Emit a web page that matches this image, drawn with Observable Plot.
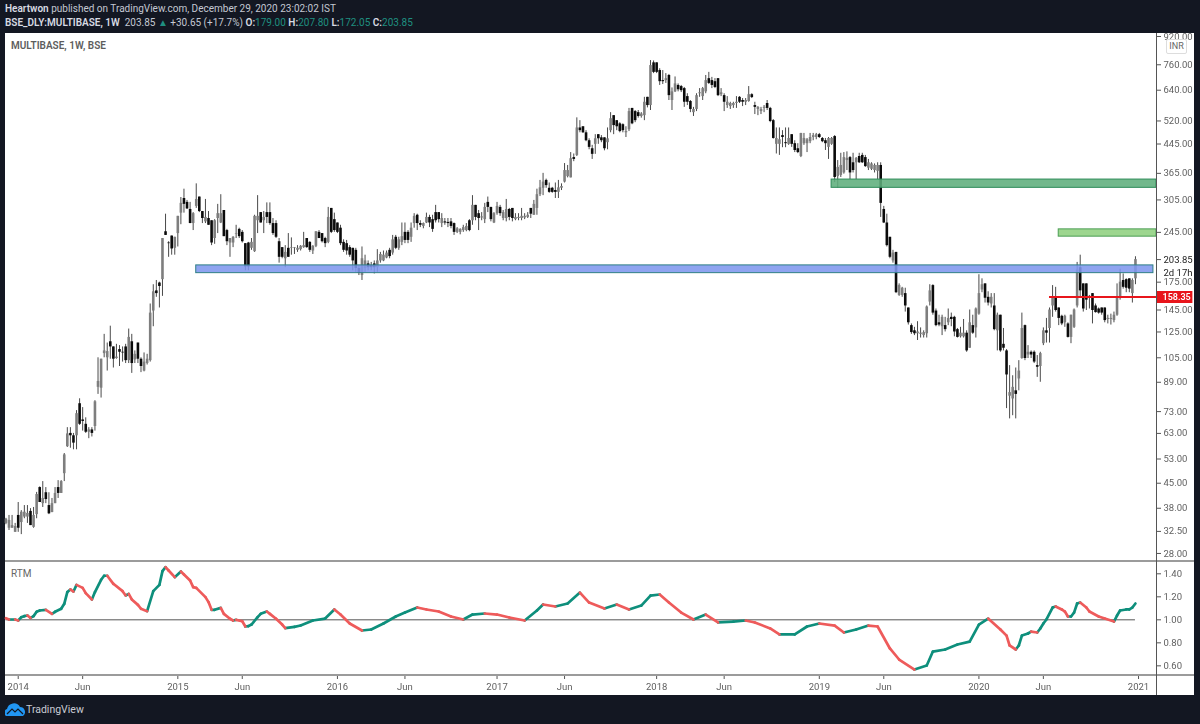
<!DOCTYPE html>
<html>
<head>
<meta charset="utf-8">
<title>MULTIBASE, 1W, BSE</title>
<script src="https://cdn.jsdelivr.net/npm/d3@7"></script>
<script src="https://cdn.jsdelivr.net/npm/@observablehq/plot@0.6"></script>
<style>
html,body{margin:0;padding:0;background:#131722;}
#page{position:relative;width:1200px;height:724px;overflow:hidden;background:#131722;font-family:Roboto,"Noto Sans",sans-serif;}
#panel{position:absolute;left:5px;top:33px;width:1189px;height:662px;background:#fff;}
.pane{position:absolute;left:0;}
.pane svg{display:block;max-width:none;overflow:visible;filter:blur(0.3px);}
.head{position:absolute;left:5px;font-size:10px;color:#c4c8d2;white-space:nowrap;line-height:14px;}
.head b{color:#d8dbe3;font-weight:600;}
.head i{font-style:normal;color:#1f8f80;}
.line{position:absolute;background:#9b9b9b;}
.tag{position:absolute;font-size:10px;color:#666;}
#inr{position:absolute;left:1166px;top:39px;width:19px;height:13px;border:1px solid #ddd;border-radius:2px;font-size:9px;line-height:13px;text-align:center;color:#666;background:#fff;}
#brand{position:absolute;left:26px;top:703px;font-size:10.5px;color:#c9ccd4;}
#logo{position:absolute;left:5px;top:703px;}
</style>
</head>
<body>
<div id="page">
  <div id="panel"></div>
  <div class="head" style="top:2px"><b>Heartwon</b> published on TradingView.com, December 29, 2020 23:02:02 IST</div>
  <div class="head" style="top:16px"><b>BSE_DLY:MULTIBASE, 1W</b>&nbsp; 203.85 <i>▲</i> +30.65 (+17.7%) <b>O:</b><i>179.00</i> <b>H:</b><i>207.80</i> <b>L:</b><i>172.05</i> <b>C:</b><i>203.85</i></div>
  <div id="pricePane" class="pane" style="top:33px"></div>
  <div id="rtmPane" class="pane" style="top:561px"></div>
  <div class="line" style="left:5px;top:560px;width:1189px;height:2px"></div>
  <div class="line" style="left:5px;top:674px;width:1189px;height:2px"></div>
  <div class="line" style="left:1156px;top:33px;width:1px;height:662px;background:#555"></div>
  <div class="tag" style="left:11px;top:40px;font-weight:600;color:#5d5d5d">MULTIBASE, 1W, BSE</div>
  <div class="tag" style="left:11px;top:568px">RTM</div>
  <div id="inr">INR</div>
  <svg id="logo" width="20" height="14" viewBox="0 0 20 14"><path d="M1 13a4 4 0 0 1 1-7 7 7 0 0 1 13-2 5 5 0 0 1 3 9z" fill="#2196f3"/><path d="M2 11l5-5 3 3 3-3 5 5" fill="none" stroke="#131722" stroke-width="1.2"/></svg>
  <div id="brand">TradingView</div>
</div>
<script>
// Weekly candles, each row [open, high, low, close], grouped by calendar year.
const candles2013 = [[34.3,35.5,34,35.3],[33.2,36.2,32.7,35],[33.2,36.2,33.2,33.8],[32.3,34.3,32.3,33.6]];
const candles2014 = [
[36.2,39.5,32.3,33.2],[34.5,37.4,31.8,37],[35.8,38.7,35.4,37],[35.8,38.7,34.3,36.7],[37.2,37.9,33.8,33.8],[33.4,38.2,33.2,36.2],[36.4,42.3,35.4,41.7],[43.7,43.9,39.5,39.5],[39.2,45.5,38.2,40.6],[42.2,43.7,39.2,40.3],
[38.7,42.2,36.4,36.6],[36.9,40.6,36.9,39.2],[39.2,43.7,39.2,42],[43.7,45.8,40.6,42],[42,45.8,42,45.5],[48,55,45.5,54.5],[57.6,65.5,57.3,62.8],[63,65.5,57,62],[62,63,56.4,59],[62,73.5,56.4,72],
[77,79.6,66.5,67],[69,75,64,68.3],[67,70,63,63.5],[63.5,65.5,60.8,64.5],[64.5,65.5,61.5,63],[66,78.6,64,78],[86,105,82,89.5],[85.5,104,80,104],[108,123,105,110],[105,116,96,109.5],
[117,130,104,113],[113,113,98,104],[104.5,115,104,105.5],[111,114,99,109],[109,113,102,108.5],[113,115,101,103],[103,127.5,101,120.5],[117,123,94.5,101],[103.5,110,101,107.5],[116,116,101,104],
[104,105,95,99],[96,108.5,95.5,102],[101,107.5,100,104],[103,151,102,142],[144,172,129.5,164],[165,177,158,162],[174,175,147,170],[178,235,159,235],[246,277,240,240],[228,230,207,227],
[239,239,210,219],[220,237,210,237]];
const candles2015 = [
[243,273,222,273],[279,310,258,298],[308,328,279,296],[300,304,286,287],[286,300,260,260],[260,280,248,278],[292,340,288,306],[311,311,280,282],[282,282,260,269],[263,306,260,271],
[269,282,257,257],[265,265,224,228],[235,267,226,265],[269,296,243,278],[261,316,260,278],[284,284,238,238],[248,250,224,230],[228,235,207,235],[228,238,221,237],[242,257,235,243],
[250,252,235,238],[245,248,228,230],[227,227,189,194],[228,229,189,194],[220,235,217,229],[215,275,214,273],[265,314,243,273],[280,280,261,261],[265,282,243,271],[280,299,260,271],
[280,299,257,260],[260,269,240,243],[260,265,235,237],[230,235,199,207],[221,221,205,207],[205,224,193,214],[220,243,207,207],[220,236,210,221],[220,221,211,221],[217,224,214,220],
[218,224,216,223],[221,245,220,224],[235,235,220,221],[229,230,214,217],[216,224,211,223],[223,246,221,246],[245,248,235,235],[243,243,228,230],[235,237,221,227],[229,290,227,271],
[288,288,243,245],[267,279,245,248]];
const candles2016 = [
[261,261,243,245],[252,257,224,227],[229,233,214,217],[227,232,210,216],[221,224,207,210],[220,220,189,202],[217,220,187,192],[192,196,183,186],[183,222,177,205],[192,210,187,202],
[198,202,189,193],[196,200,189,193],[198,202,185,193],[193,218,187,202],[202,214,199,211],[202,216,201,210],[206,216,205,213],[217,220,205,208],[213,240,210,233],[237,240,218,220],
[220,237,217,233],[229,261,224,238],[245,261,227,232],[245,248,227,232],[237,261,229,252],[260,278,252,273],[275,277,248,260],[260,265,253,257],[255,261,251,260],[261,279,260,271],
[271,275,253,261],[267,275,245,250],[280,294,261,265],[280,280,261,267],[260,278,253,269],[263,269,257,261],[262,269,253,260],[263,269,251,255],[260,261,240,245],[245,253,243,251],
[245,251,241,250],[248,257,245,253],[248,260,246,255],[265,267,246,248],[265,314,257,294],[294,294,265,271],[278,284,248,269],[270,280,265,272],[267,298,260,290],[300,311,280,290],
[290,290,263,267],[261,280,260,278]];
const candles2017 = [
[278,300,275,292],[290,294,273,278],[269,284,265,280],[269,306,263,286],[286,288,265,271],[288,288,263,269],[267,278,265,271],[269,278,265,271],[269,288,265,273],[270,278,267,273],
[271,280,269,275],[288,288,269,277],[275,304,275,296],[288,328,275,316],[316,348,312,331],[330,365,314,344],[348,351,330,336],[330,342,319,321],[330,332,319,321],[325,342,308,321],
[321,348,308,331],[330,340,325,334],[344,390,342,372],[357,385,354,372],[354,420,354,403],[406,416,395,401],[412,531,409,496],[496,521,480,487],[500,500,478,480],[480,487,452,455],
[455,461,428,435],[431,441,401,415],[444,474,415,461],[474,474,444,461],[464,471,449,455],[464,464,425,431],[449,496,428,461],[487,550,480,528],[539,539,474,504],[521,521,487,500],
[510,514,480,484],[507,510,480,487],[480,500,465,484],[490,566,484,554],[566,566,507,510],[554,558,514,521],[550,558,530,536],[536,550,530,545],[539,610,521,590],[610,610,568,577],
[577,782,558,756],[770,780,716,722]];
const candles2018 = [
[770,770,716,722],[731,740,661,678],[683,731,665,678],[683,716,670,692],[707,712,597,617],[597,650,558,633],[633,700,630,668],[661,668,633,642],[656,661,630,638],[647,652,570,590],
[613,625,577,590],[593,597,550,562],[550,570,536,562],[562,625,554,617],[625,647,610,629],[613,652,597,647],[633,707,625,683],[692,722,665,670],[683,698,647,661],[678,692,647,652],
[692,692,613,617],[621,647,613,629],[617,625,554,590],[577,613,566,590],[573,590,562,585],[577,590,566,585],[585,613,566,590],[610,613,585,590],[597,605,573,590],[590,605,577,597],
[593,656,590,621],[621,625,605,609],[577,590,543,570],[562,573,539,570],[554,570,543,562],[566,577,550,570],[585,597,558,566],[566,570,514,518],[521,525,460,462],[444,496,416,462],
[444,496,412,458],[471,487,434,465],[449,496,434,446],[444,496,441,462],[474,474,435,444],[446,455,420,426],[431,446,417,420],[409,478,406,478],[446,478,441,462],[446,462,420,458],
[452,478,446,465],[465,478,455,471],[465,478,458,474]];
const candles2019 = [
[474,478,462,465],[462,465,449,452],[455,462,426,446],[435,465,401,462],[444,465,441,462],[468,471,343,355],[357,398,331,380],[360,418,355,385],[366,420,363,406],[398,422,372,404],
[406,409,350,366],[392,418,366,372],[392,406,350,404],[409,418,390,392],[412,418,390,392],[406,412,380,382],[378,401,372,392],[375,392,372,389],[372,389,366,385],[370,392,350,385],
[385,392,271,298],[286,292,260,261],[261,277,222,224],[237,237,205,207],[202,217,199,213],[214,214,162,163],[160,173,159,171],[160,169,158,168],[162,168,143,149],[147,147,131,133],
[130.5,132,123,124.5],[126,129,122,123.5],[123.5,134,118,125],[123,128.5,120,124],[122,126,120,124.5],[123.5,149,120,148],[153,172,149,165],[171,172,140,142],[144,146,129.5,130.5],[133,140,129.5,131],
[129.5,140,122,138],[130.5,138,125,127],[133,146,130.5,137],[138,142,129.5,136],[138,139,121,125],[127,128,120,120.5],[121,129,120,124],[121,136,120,124],[124,126,109,110],[112,145,112,133],
[130.5,140,123,124],[128.5,147,120,146]];
const candles2020 = [
[141,184,140,162],[166,179,163,172],[173,173,152,157],[158,164,149,152],[151,162,147,158],[149,162,126,127],[126,142,110,140],[140,140,109,110],[115,128,110,112],[110,111,74.5,93.5],
[81,99.6,69.5,83],[79.5,93,71,86],[84,98,69.5,82],[91,103,84,96],[104.5,142,104,128],[130.5,131,103,104.5],[107,114,104.5,109],[109,110,104.5,107],[109,110,101,102],[99.6,106.6,92,98.5],
[99,109,89,108],[115.5,128.5,114,126],[126,137,116,124],[128,147,116,145],[149,171,138,158],[157,169,143,144.5],[147,147,130.5,137],[139,140,130.5,132],[133,140,129,139],[132,133,120,120.5],
[120.5,140,115.5,140],[129,146,128,145],[149,200,147,190],[193,210,157,165],[173,173,143,146],[173,173,144.5,155],[157,160,146,159],[162,162,132,144.5],[149,151,142,142.5],[146,147,141,142],
[147,147,140,142],[147,147,133,135],[136,140,132,137],[136,141,131,137],[135,143,133,140],[140,173,139,158],[158,191,155,175],[177,185,167,169],[178,179,163,168],[179,179,163,167],
[162,179,152,177],[179,207.8,172.05,203.85]];

// RTM readings: week number (counted from the first candle) and value.
const rtmWeeks = [1,2,4,5,6,7,8,9,10,11,12,14,16,17,19,20,21,22,23,24,26,27,29,30,32,33,34,36,39,40,41,42,44,45,47,49,51,52,53,54,56,58,59,61,62,63,66,67,68,69,71,72,74,75,76,78,79,80,81,83,84,86,87,89,91,92,95,97,
101,105,108,110,113,117,120,124,128,131,135,138,142,146,150,153,157,161,165,170,174,176,180,184,188,191,196,200,204,208,211,214,217,221,225,229,233,238,242,245,250,253,258,262,266,271,274,278,282,285,289,292,297,301,303,307,311,315,318,321,325,327,328,330,331,332,334,335,337,338,339,340,342,343,345,346,347,348,349,350,351,353,354,357,359,362,363,364,366,367,368,369];
const rtmValues = [1.014,1.003,1.003,0.994,1.023,1.032,1.038,1.017,1.032,1.07,1.081,1.087,1.052,1.07,1.096,1.139,1.241,1.264,1.246,1.304,1.278,1.232,1.177,1.241,1.348,1.383,1.383,1.313,1.249,1.212,1.226,1.177,1.13,1.096,1.075,1.249,1.304,1.423,1.458,1.429,1.371,1.42,1.394,1.342,1.284,1.278,1.197,1.154,1.087,1.087,1.104,1.052,1.009,0.994,1,0.988,0.942,0.945,0.959,1.023,1.052,1.072,1.052,1.009,0.959,0.928,0.939,0.951,
0.994,1.011,1.09,1.046,0.968,0.907,0.916,0.968,1.029,1.063,1.107,1.09,1.072,1.029,1.003,1.046,1.055,1.046,1.02,0.994,1.081,1.133,1.116,1.142,1.237,1.15,1.098,1.133,1.09,1.124,1.211,1.22,1.15,1.063,1.003,1.046,0.977,0.985,0.994,0.977,0.925,0.873,0.873,0.942,0.968,0.95,0.89,0.916,0.95,0.942,0.751,0.655,0.568,0.603,0.724,0.742,0.785,0.811,0.959,1.011,0.916,0.863,0.777,0.742,0.777,0.863,0.881,0.898,0.89,0.925,0.968,1.003,1.107,1.116,1.09,1.072,1.029,1.029,1.063,1.142,1.15,1.107,1.072,1.029,1.011,0.985,1.037,1.081,1.09,1.09,1.107,1.142];

// Price zones and the marked level.
const zoneStart = ["2015-02-16","2019-02-04","2020-07-06"];
const zoneEnd   = ["2021-02-07","2021-02-14","2021-02-14"];
const zoneLow   = [186,331,238];
const zoneHigh  = [196,350,250];
const zoneFill  = ["#7f97ee","#5fae7c","#8fd07f"];
const zoneEdge  = ["#2f7f86","#2c8a58","#4c9e55"];
const levelPrice = 158.35;
const levelStart = "2020-06-15";

// Axes.
const priceTicks = [920,760,640,520,445,365,305,245,175,145,125,105,89,73,63,53,45,38,32.5,28];
const lastPrice = 203.85;
const rtmTicks = [0.6,0.8,1,1.2,1.4];
const timeTicks = ["2014-01-06","2014-06-02","2015-01-05","2015-06-01","2016-01-04","2016-06-06","2017-01-02","2017-06-05","2018-01-01","2018-06-04","2019-01-07","2019-06-03","2020-01-06","2020-06-01","2021-01-04"];
const timeLabels = ["2014","Jun","2015","Jun","2016","Jun","2017","Jun","2018","Jun","2019","Jun","2020","Jun","2021"];

const FONT = 'Roboto,"Noto Sans",sans-serif';
const UP = "#0e8f7c", DOWN = "#ee5b5b", AXIS_SIZE = 9.5;
const firstWeek = new Date(Date.UTC(2013, 11, 9));
const weekDate = n => d3.utcMonday.offset(firstWeek, n - 1);
const toDate = s => new Date(s + "T00:00:00Z");

const candles = [...candles2013, ...candles2014, ...candles2015, ...candles2016, ...candles2017, ...candles2018, ...candles2019, ...candles2020]
  .map(([open, high, low, close], i) => ({date: weekDate(i + 1), open, high, low, close}));
const zones = zoneStart.map((s, i) => ({x1: toDate(s), x2: toDate(zoneEnd[i]), y1: zoneLow[i], y2: zoneHigh[i], fill: zoneFill[i], edge: zoneEdge[i]}));
const rtm = rtmWeeks.map((w, i) => ({date: weekDate(w), value: rtmValues[i]}));
const rtmLinks = d3.pairs(rtm).map(([a, b]) => ({x1: a.date, x2: b.date, y1: a.value, y2: b.value, up: b.value >= a.value}));

const domainX = [new Date(Date.UTC(2013, 11, 8)), new Date(Date.UTC(2021, 1, 14))];
const tagEnd = new Date(Date.UTC(2021, 4, 8));
const tickDates = timeTicks.map(toDate);
const tickLabel = new Map(tickDates.map((d, i) => [+d, timeLabels[i]]));
const common = {
  width: 1200, marginLeft: 5, marginRight: 44,
  style: {background: "transparent", fontFamily: FONT, fontSize: "9.5px", color: "#666"}
};

const pricePlot = Plot.plot({
  ...common, height: 528, marginTop: 0, marginBottom: 1,
  x: {type: "utc", domain: domainX, axis: null},
  y: {type: "log", domain: [26.7, 938.8], axis: null},
  marks: [
    Plot.ruleX(candles, {x: "date", y1: "low", y2: "high", stroke: "#4a4a4a", strokeWidth: 1}),
    Plot.ruleX(candles.filter(d => d.close >= d.open), {x: "date", y1: "open", y2: "close", stroke: "#7e7e7e", strokeWidth: 2.6}),
    Plot.ruleX(candles.filter(d => d.close < d.open), {x: "date", y1: "open", y2: "close", stroke: "#0b0b0b", strokeWidth: 2.6}),
    Plot.rect(zones, {x1: "x1", x2: "x2", y1: "y1", y2: "y2", fill: "fill", fillOpacity: 0.88, stroke: "edge", strokeWidth: 1}),
    Plot.ruleY([levelPrice], {x1: toDate(levelStart), x2: domainX[1], stroke: "#e8151b", strokeWidth: 2}),
    Plot.ruleY([levelPrice], {x1: domainX[1], x2: tagEnd, stroke: "#e8151b", strokeWidth: 12}),
    Plot.axisY(priceTicks, {anchor: "right", tickSize: 4, tickPadding: 3, tickFormat: d3.format(".2f"), label: null, stroke: "#555", fill: "#5f5f5f", fontSize: AXIS_SIZE}),
    Plot.axisY([lastPrice], {anchor: "right", tickSize: 4, tickPadding: 3, tickFormat: d3.format(".2f"), label: null, stroke: "#555", fill: "#222", fontSize: AXIS_SIZE}),
    Plot.text([lastPrice], {x: domainX[1], y: d => d, text: () => "2d 17h", textAnchor: "start", dx: 7, dy: 13, fill: "#222", fontSize: AXIS_SIZE}),
    Plot.text([levelPrice], {x: domainX[1], y: d => d, text: d => d3.format(".2f")(d), textAnchor: "start", dx: 6, fill: "white", fontWeight: 600, fontSize: 9})
  ]
});
document.getElementById("pricePane").append(pricePlot);

const rtmPlot = Plot.plot({
  ...common, height: 134, marginTop: 0, marginBottom: 20,
  x: {type: "utc", domain: domainX, axis: null},
  y: {domain: [0.516, 1.507], axis: null},
  marks: [
    Plot.ruleY([1], {x1: candles[0].date, x2: candles[candles.length - 1].date, stroke: "#555", strokeWidth: 1}),
    Plot.link(rtmLinks.filter(d => d.up), {x1: "x1", x2: "x2", y1: "y1", y2: "y2", stroke: UP, strokeWidth: 2.7, strokeLinecap: "round"}),
    Plot.link(rtmLinks.filter(d => !d.up), {x1: "x1", x2: "x2", y1: "y1", y2: "y2", stroke: DOWN, strokeWidth: 2.7, strokeLinecap: "round"}),
    Plot.axisY(rtmTicks, {anchor: "right", tickSize: 4, tickPadding: 3, tickFormat: d3.format(".2f"), label: null, stroke: "#555", fill: "#5f5f5f", fontSize: AXIS_SIZE}),
    Plot.axisX(tickDates, {anchor: "bottom", tickSize: 4, tickPadding: 4, tickFormat: d => tickLabel.get(+d), label: null, stroke: "#555", fill: "#5f5f5f", fontSize: AXIS_SIZE})
  ]
});
document.getElementById("rtmPane").append(rtmPlot);
</script>
</body>
</html>
